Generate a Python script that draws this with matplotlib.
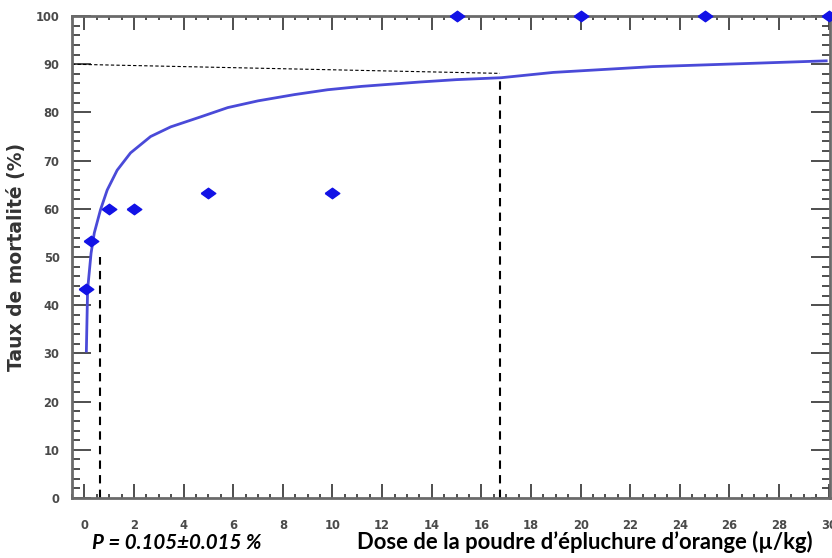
import matplotlib
matplotlib.use("Agg")
import matplotlib.pyplot as plt
from matplotlib.ticker import MultipleLocator

# observed mortality points
doses = [0.05, 0.25, 1, 2, 5, 10, 15, 20, 25, 30]
mortality = [43.3, 53.3, 60, 60, 63.3, 63.3, 100, 100, 100, 100]

# fitted curve
curve_x = [0.08, 0.13, 0.27, 0.40, 0.65, 0.92, 1.32, 1.86, 2.67, 3.48, 4.70,
           5.78, 7.0, 8.47, 9.8, 11.17, 13.5, 15.0, 16.8, 18.9, 22.9, 27.0, 29.9]
curve_y = [30.5, 43.2, 50.8, 55.0, 59.8, 63.9, 68.0, 71.6, 75.0, 77.0, 79.1,
           81.0, 82.4, 83.7, 84.7, 85.4, 86.3, 86.8, 87.2, 88.3, 89.5, 90.2, 90.7]

# reference lines (LD50 / LD90)
ld50_x, ld50_y = 0.65, 50
ld90_x, ld90_y = 16.75, 87.1
guide_start = (-0.5, 90)
guide_end = (16.75, 88.1)

# flattened diamond marker
diamond = [(-1, 0), (0, 0.72), (1, 0), (0, -0.72), (-1, 0)]

fig = plt.figure(figsize=(8.32, 5.58), dpi=100)
ax = fig.add_axes([0.0865, 0.1075, 0.911, 0.8638])

ax.plot(curve_x, curve_y, color="#4a4ad8", lw=2, zorder=3)
ax.plot(doses, mortality, linestyle="none", marker=diamond, markersize=10.5,
        color="#1212e6", clip_on=False, zorder=4)

ax.plot([ld50_x, ld50_x], [0, ld50_y], color="black", lw=1.5,
        linestyle=(0, (4, 3)), zorder=2)
ax.plot([ld90_x, ld90_x], [0, ld90_y], color="black", lw=1.5,
        linestyle=(0, (4, 3)), zorder=2)
ax.plot([guide_start[0], guide_end[0]], [guide_start[1], guide_end[1]],
        color="black", lw=0.8, linestyle=(0, (3, 2)), zorder=2)

ax.set_xlim(-0.5, 30.05)
ax.set_ylim(0, 100)
ax.xaxis.set_major_locator(MultipleLocator(2))
ax.xaxis.set_minor_locator(MultipleLocator(0.5))
ax.yaxis.set_major_locator(MultipleLocator(10))
ax.yaxis.set_minor_locator(MultipleLocator(2))

ax.tick_params(axis="both", which="both", direction="in", top=True, right=True,
               color="#404040")
ax.tick_params(axis="x", which="major", length=10, width=1.3, pad=15)
ax.tick_params(axis="x", which="minor", length=3, width=1.3)
ax.tick_params(axis="y", which="major", length=14, width=1.3, pad=9)
ax.tick_params(axis="y", which="minor", length=6, width=1.3)

for lab in ax.get_xticklabels() + ax.get_yticklabels():
    lab.set_fontfamily("DejaVu Sans")
    lab.set_fontweight("bold")
    lab.set_fontsize(8.3)
    lab.set_color("#4a4a4a")

for sp in ax.spines.values():
    sp.set_color("#6a6a6a")
    sp.set_linewidth(2)

ax.set_ylabel("Taux de mortalité (%)", fontsize=13.5, fontweight="bold",
              fontfamily="DejaVu Sans", color="#333333", labelpad=7)

fig.text(0.111, 0.016, "P = 0.105±0.015 %", fontsize=14.8, fontweight="bold",
         style="italic", fontfamily="Lato", color="black", va="baseline")
fig.text(0.429, 0.016, "Dose de la poudre d’épluchure d’orange (µ/kg)",
         fontsize=15.8, fontweight="bold", fontfamily="Lato", color="black",
         va="baseline")

fig.savefig("out.png", dpi=100)
